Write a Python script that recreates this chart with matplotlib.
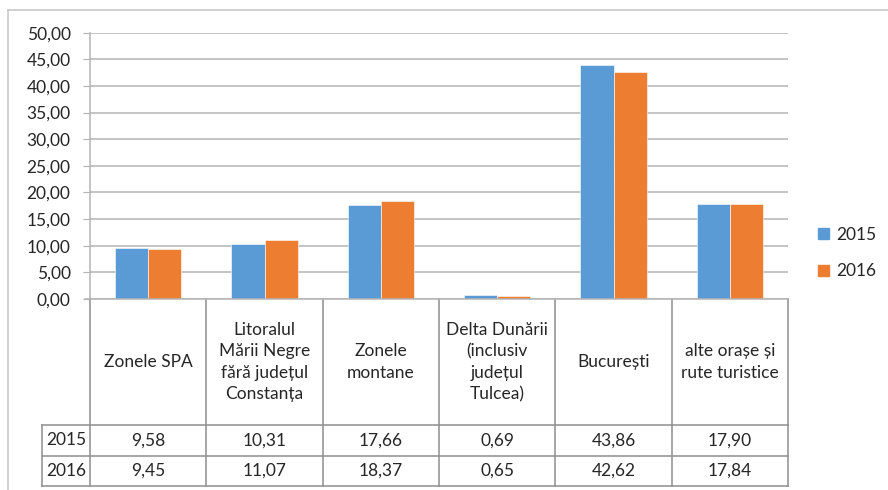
import matplotlib
matplotlib.use('Agg')
import matplotlib.pyplot as plt
from matplotlib.lines import Line2D
from matplotlib.patches import Patch

plt.rcParams['font.family'] = ['Lato', 'DejaVu Sans']

categories = [
    'Zonele SPA',
    'Litoralul\nMării Negre\nfără județul\nConstanța',
    'Zonele\nmontane',
    'Delta Dunării\n(inclusiv\njudețul\nTulcea)',
    'București',
    'alte orașe și\nrute turistice',
]
years = ['2015', '2016']
v2015 = [9.58, 10.31, 17.66, 0.69, 43.86, 17.90]
v2016 = [9.45, 11.07, 18.37, 0.65, 42.62, 17.84]
yticks = [0, 5, 10, 15, 20, 25, 30, 35, 40, 45, 50]

BLUE = '#5B9BD5'
ORANGE = '#ED7D31'
GRID = '#B4B4B4'
LINE = '#8E8E8E'
TXT = '#262626'
FS = 12.5

W, H = 888, 490


def fx(px):
    return px / W


def fy(py):
    return 1 - py / H


fig = plt.figure(figsize=(W / 100, H / 100), dpi=100)

# outer chart frame
fig.add_artist(Line2D([fx(8), fx(8)], [fy(10), 0], color='#C8C8C8', lw=1.2))
fig.add_artist(Line2D([fx(8), 1], [fy(10), fy(10)], color='#C8C8C8', lw=1.2))

# plot area
left, right, top, base = 90, 788, 32.7, 299
ax = fig.add_axes([fx(left), fy(base), (right - left) / W, (base - top) / H])
n = len(categories)
xs = [i + 0.5 for i in range(n)]
bw = 0.284
ax.bar([x - bw / 2 for x in xs], v2015, width=bw, color=BLUE, edgecolor='white', linewidth=0.4, label=years[0])
ax.bar([x + bw / 2 for x in xs], v2016, width=bw, color=ORANGE, edgecolor='white', linewidth=0.4, label=years[1])
ax.set_xlim(0, n)
ax.set_ylim(0, 50)
ax.set_yticks(yticks)
ax.set_yticklabels([f'{t:.2f}'.replace('.', ',') for t in yticks], fontsize=FS, color=TXT)
ax.set_xticks([])
ax.tick_params(axis='y', length=5, color=GRID, pad=9)
ax.yaxis.grid(True, color=GRID, linewidth=1.1)
ax.set_axisbelow(True)
for s in ['top', 'right', 'bottom']:
    ax.spines[s].set_visible(False)
ax.spines['left'].set_color(GRID)
ax.spines['left'].set_linewidth(1.1)

# legend
handles = [Patch(color=BLUE), Patch(color=ORANGE)]
fig.legend(handles, years, loc='center left', bbox_to_anchor=(fx(818), fy(253)),
           frameon=False, fontsize=FS, handlelength=0.65, handleheight=0.65,
           handletextpad=0.4, labelspacing=1.2, borderpad=0, borderaxespad=0,
           labelcolor=TXT)

# data table below the plot
hdr_left, tab_bottom = 42, 486
hdr_w = (left - hdr_left) / ((right - left) / n)
tab = fig.add_axes([fx(hdr_left), fy(tab_bottom), (right - hdr_left) / W, (tab_bottom - base) / H])
tab.set_xlim(-hdr_w, n)
tab.set_ylim(tab_bottom - base, 0)
tab.axis('off')
rows = [0, 126, 156.5, 187]
kw = dict(color=LINE, lw=1.1, clip_on=False)
for i in range(n + 1):
    tab.plot([i, i], [rows[0], rows[3]], **kw)
tab.plot([-hdr_w, -hdr_w], [rows[1], rows[3]], **kw)
for r in rows[1:]:
    tab.plot([-hdr_w, n], [r, r], **kw)
tab.plot([-hdr_w * 0.1, n], [0, 0], color=GRID, lw=1.1, clip_on=False)

for i, c in enumerate(categories):
    tab.text(i + 0.5, rows[1] / 2, c, ha='center', va='center', fontsize=FS,
             color=TXT, linespacing=1.4)
for j, vals in enumerate([v2015, v2016]):
    yc = (rows[j + 1] + rows[j + 2]) / 2
    tab.text(-hdr_w / 2, yc, years[j], ha='center', va='center', fontsize=FS, color=TXT)
    for i, v in enumerate(vals):
        tab.text(i + 0.5, yc, f'{v:.2f}'.replace('.', ','), ha='center', va='center',
                 fontsize=FS, color=TXT)

fig.savefig('out.png', dpi=100)
